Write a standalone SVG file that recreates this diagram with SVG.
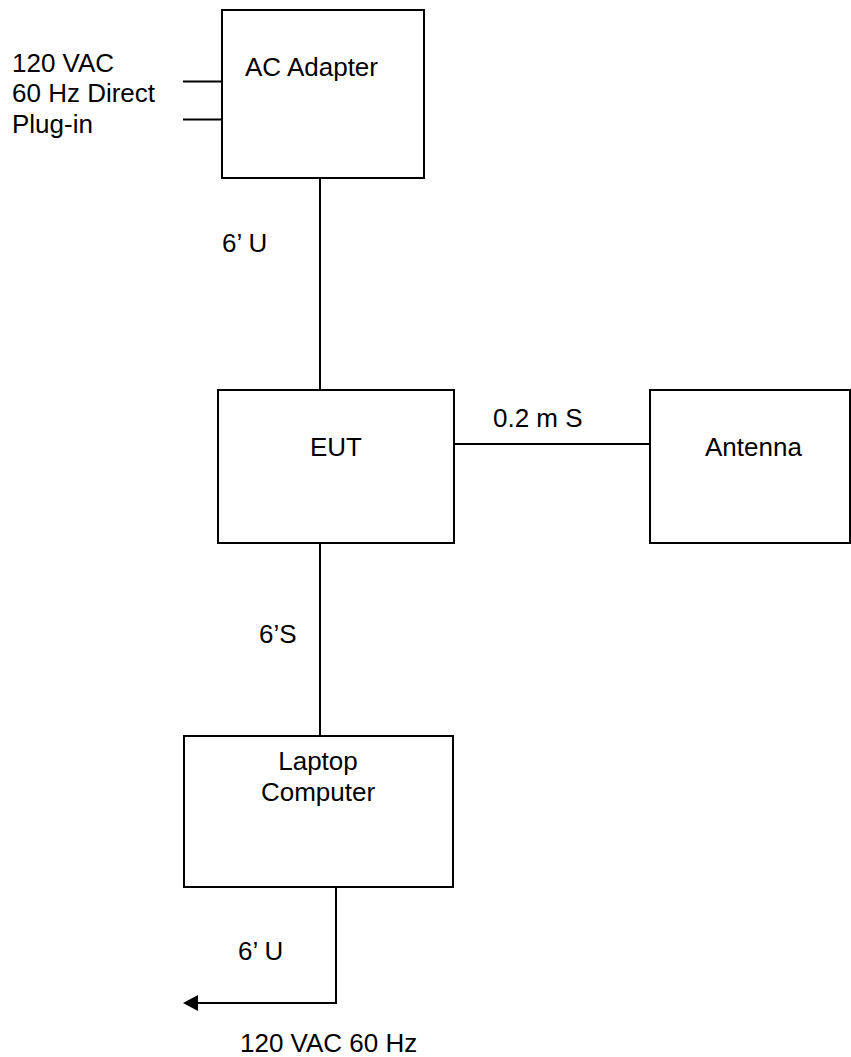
<svg xmlns="http://www.w3.org/2000/svg" width="851" height="1057" viewBox="0 0 851 1057">
<style>
.box{fill:#fff;stroke:#000;stroke-width:2}
.ln{fill:none;stroke:#000;stroke-width:2}
text{font-family:"Liberation Sans",Arial,sans-serif;font-size:26px;fill:#000}
</style>
<defs>
<marker id="arr" viewBox="0 0 15 16" refX="0" refY="8" markerWidth="15" markerHeight="16" markerUnits="userSpaceOnUse" orient="auto-start-reverse">
<path d="M0,0 L15,8 L0,16 Z" fill="#000"/>
</marker>
</defs>
<rect width="851" height="1057" fill="#fff"/>
<g id="connectors">
<line class="ln" x1="183" y1="81.5" x2="222" y2="81.5"/>
<line class="ln" x1="183" y1="119.5" x2="222" y2="119.5"/>
<line class="ln" x1="320" y1="178" x2="320" y2="390"/>
<line class="ln" x1="320" y1="543" x2="320" y2="736"/>
<line class="ln" x1="454" y1="444" x2="650" y2="444"/>
<path class="ln" d="M336,887 L336,1003 L198,1003" marker-end="url(#arr)"/>
<text x="222" y="252">6’ U</text>
<text x="259" y="643">6’S</text>
<text x="493" y="427">0.2 m S</text>
<text x="238" y="960">6’ U</text>
</g>
<g id="power-in">
<text x="12" y="72">120 VAC</text>
<text x="12" y="102">60 Hz Direct</text>
<text x="12" y="133">Plug-in</text>
</g>
<g id="ac-adapter">
<rect class="box" x="222" y="10" width="202" height="168"/>
<text x="245" y="76">AC Adapter</text>
</g>
<g id="eut">
<rect class="box" x="218" y="390" width="236" height="153"/>
<text x="336" y="456" text-anchor="middle">EUT</text>
</g>
<g id="antenna">
<rect class="box" x="650" y="390" width="200" height="153"/>
<text x="705" y="456">Antenna</text>
</g>
<g id="laptop">
<rect class="box" x="184" y="736" width="269" height="151"/>
<text x="318" y="770" text-anchor="middle">Laptop</text>
<text x="318" y="801" text-anchor="middle">Computer</text>
</g>
<g id="power-out">
<text x="240" y="1052">120 VAC 60 Hz</text>
</g>
</svg>
